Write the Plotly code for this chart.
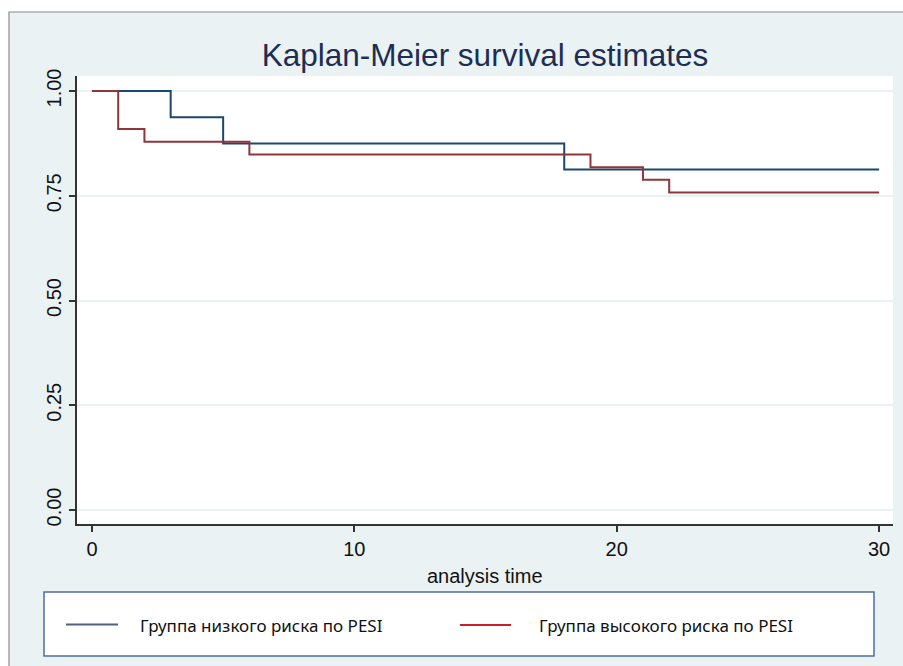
import plotly.graph_objects as go

# Data
low_time = [0, 3, 5, 18, 30]
low_surv = [1.0, 0.9375, 0.875, 0.8125, 0.8125]
high_time = [0, 1, 2, 6, 19, 21, 22, 30]
high_surv = [1.0, 0.9091, 0.8788, 0.8485, 0.8182, 0.7879, 0.7576, 0.7576]
names = ["Группа низкого риска по PESI", "Группа высокого риска по PESI"]
y_ticks = [0, 0.25, 0.5, 0.75, 1.0]
y_ticklabels = ["0.00", "0.25", "0.50", "0.75", "1.00"]
x_ticks = [0, 10, 20, 30]

W, H = 903, 666
L, R, T, B = 77, 10, 76, 142
pw, ph = W - L - R, H - T - B


def px(x):
    return (x - L) / pw


def py(y):
    return (H - B - y) / ph


fig = go.Figure()
fig.add_trace(go.Scatter(x=low_time, y=low_surv, mode="lines", line_shape="hv",
                         line=dict(color="#1a476f", width=2), name=names[0],
                         showlegend=False))
fig.add_trace(go.Scatter(x=high_time, y=high_surv, mode="lines", line_shape="hv",
                         line=dict(color="#90353b", width=2), name=names[1],
                         showlegend=False))

legend_font = dict(family="Noto Sans", size=17, color="#111111")

fig.update_layout(
    width=W, height=H,
    margin=dict(l=L, r=R, t=T, b=B),
    paper_bgcolor="white",
    plot_bgcolor="white",
    title=dict(text="Kaplan-Meier survival estimates", x=0.5, xref="paper",
               y=1 - 55 / H, yref="container", yanchor="middle", xanchor="center",
               font=dict(family="Liberation Sans, Arial", size=31.5, color="#1e2d53")),
    showlegend=False,
    shapes=[
        # outer graph region
        dict(type="rect", xref="paper", yref="paper", layer="below",
             x0=px(9), x1=px(W + 20), y0=py(H + 20), y1=py(12),
             fillcolor="#eaf2f3", line=dict(color="#8a8a8a", width=1.2)),
        # plot region
        dict(type="rect", xref="paper", yref="paper", layer="below",
             x0=0, x1=1, y0=0, y1=1, fillcolor="white", line=dict(width=0)),
        # legend box
        dict(type="rect", xref="paper", yref="paper", layer="below",
             x0=px(44), x1=px(874), y0=py(656), y1=py(592),
             fillcolor="white", line=dict(color="#4d6ea3", width=1.5)),
        # legend keys
        dict(type="line", xref="paper", yref="paper",
             x0=px(66), x1=px(118), y0=py(624.5), y1=py(624.5),
             line=dict(color="#4f6280", width=2)),
        dict(type="line", xref="paper", yref="paper",
             x0=px(460), x1=px(511), y0=py(625), y1=py(625),
             line=dict(color="#c8202a", width=2)),
    ],
    annotations=[
        dict(text="analysis time", xref="paper", yref="paper", x=0.5, y=py(576),
             xanchor="center", yanchor="middle", showarrow=False,
             font=dict(family="Liberation Sans, Arial", size=20, color="#111111")),
        dict(text=names[0], xref="paper", yref="paper", x=px(138), y=py(625),
             xanchor="left", yanchor="middle", showarrow=False, font=legend_font),
        dict(text=names[1], xref="paper", yref="paper", x=px(537), y=py(625),
             xanchor="left", yanchor="middle", showarrow=False, font=legend_font),
    ],
)

fig.update_xaxes(range=[-0.57, 30.53], tickvals=x_ticks, showgrid=False, zeroline=False,
                 showline=True, linecolor="#333333", linewidth=1.5,
                 ticks="outside", ticklen=6, tickwidth=1.5, tickcolor="#333333",
                 tickfont=dict(family="Liberation Sans, Arial", size=20, color="#111111"))
fig.update_yaxes(range=[-0.0334, 1.0358], tickvals=y_ticks, ticktext=y_ticklabels,
                 tickangle=-90, showgrid=True, gridcolor="#eaf2f3", gridwidth=1.5,
                 zeroline=False, showline=True, linecolor="#333333", linewidth=1.5,
                 ticks="outside", ticklen=6, tickwidth=1.5, tickcolor="#333333",
                 tickfont=dict(family="Liberation Sans, Arial", size=20, color="#111111"))

fig.write_html("out.html", config={"displayModeBar": False},
               post_script="document.body.style.margin='0px';")
